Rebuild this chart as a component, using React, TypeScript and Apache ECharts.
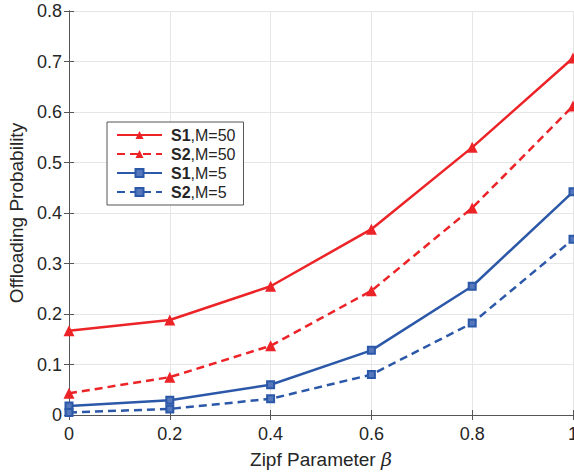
import React, { useEffect, useRef } from "react";
import * as echarts from "echarts";

const betaValues = [0, 0.2, 0.4, 0.6, 0.8, 1];
const s1M50 = [0.167, 0.188, 0.255, 0.368, 0.53, 0.707];
const s2M50 = [0.043, 0.075, 0.137, 0.246, 0.41, 0.612];
const s1M5 = [0.018, 0.029, 0.06, 0.128, 0.255, 0.442];
const s2M5 = [0.005, 0.012, 0.032, 0.08, 0.182, 0.348];

const seriesNames = ["S1,M=50", "S2,M=50", "S1,M=5", "S2,M=5"];

const RED = "#ec2327";
const BLUE = "#2b58a8";
const FONT = "'Liberation Sans', Arial, Helvetica, sans-serif";
const TXT = "#262626";

function pairs(vals: number[]) {
  return betaValues.map((b, i) => [b, vals[i]]);
}

export default function App() {
  const ref = useRef<HTMLDivElement>(null);
  useEffect(() => {
    if (!ref.current) return;
    const chart = echarts.init(ref.current, undefined, { renderer: "svg" });
    const mk = (name: string, vals: number[], color: string, dashed: boolean, tri: boolean) => ({
      name,
      type: "line",
      data: pairs(vals),
      symbol: tri ? "triangle" : "rect",
      symbolSize: tri ? 11 : 7,
      showAllSymbol: true,
      lineStyle: { color, width: 2.5, type: dashed ? [8, 5] : "solid" },
      itemStyle: { color: tri ? color : "#5577bb", borderColor: color, borderWidth: tri ? 0 : 2 },
      z: 3,
    });
    chart.setOption({
      animation: false,
      backgroundColor: "#ffffff",
      textStyle: { fontFamily: FONT },
      grid: { left: 69, top: 11, width: 504, height: 404, containLabel: false, outerBoundsMode: "none" },
      legend: {
        data: seriesNames,
        orient: "vertical",
        left: 107,
        top: 122,
        padding: [5, 8, 5, 9],
        itemGap: 3,
        itemWidth: 45,
        itemHeight: 10,
        backgroundColor: "#ffffff",
        borderColor: "#555555",
        borderWidth: 1,
        borderRadius: 0,
        formatter: (n: string) => {
          const [s, m] = n.split(",");
          return `{b|${s}}{n|,${m}}`;
        },
        textStyle: {
          rich: {
            b: { fontWeight: "bold", fontSize: 16, lineHeight: 17, color: TXT, fontFamily: FONT, padding: [0, 0, 0, 4] },
            n: { fontSize: 16, lineHeight: 17, color: TXT, fontFamily: FONT },
          },
        },
      },
      xAxis: [
        {
          type: "value",
          min: 0,
          max: 1,
          interval: 0.2,
          name: "Zipf Parameter {i|β}",
          nameLocation: "middle",
          nameGap: 33,
          nameTextStyle: {
            fontSize: 19,
            lineHeight: 22,
            color: TXT,
            fontFamily: FONT,
            rich: { i: { fontStyle: "italic", fontSize: 19, lineHeight: 22, color: TXT, fontFamily: "'DejaVu Serif', serif" } },
          },
          axisLine: { show: true, lineStyle: { color: "#555555", width: 1 } },
          axisTick: { show: true, inside: true, length: 5, lineStyle: { color: "#555555" } },
          axisLabel: {
            fontSize: 18,
            color: TXT,
            margin: 10,
            formatter: (v: number) => (v === 0 || v === 1 ? String(v) : v.toFixed(1)),
          },
          splitLine: { show: true, lineStyle: { color: "#e6e6e6", width: 1 } },
        },
        {
          type: "value",
          position: "top",
          min: 0,
          max: 1,
          interval: 0.2,
          axisLine: { show: true, lineStyle: { color: "#555555", width: 1 } },
          axisTick: { show: true, inside: true, length: 5, lineStyle: { color: "#555555" } },
          axisLabel: { show: false },
          splitLine: { show: false },
        },
      ],
      yAxis: [
        {
          type: "value",
          min: 0,
          max: 0.8,
          interval: 0.1,
          name: "Offloading Probability",
          nameLocation: "middle",
          nameGap: 41,
          nameTextStyle: { fontSize: 19, color: TXT, fontFamily: FONT },
          axisLine: { show: true, lineStyle: { color: "#555555", width: 1 } },
          axisTick: { show: true, inside: true, length: 5, lineStyle: { color: "#555555" } },
          axisLabel: {
            fontSize: 18,
            color: TXT,
            margin: 7,
            formatter: (v: number) => (v === 0 ? "0" : v.toFixed(1)),
          },
          splitLine: { show: true, lineStyle: { color: "#e6e6e6", width: 1 } },
        },
        {
          type: "value",
          position: "right",
          min: 0,
          max: 0.8,
          interval: 0.1,
          axisLine: { show: true, lineStyle: { color: "#555555", width: 1 } },
          axisTick: { show: true, inside: true, length: 5, lineStyle: { color: "#555555" } },
          axisLabel: { show: false },
          splitLine: { show: false },
        },
      ],
      series: [
        mk(seriesNames[0], s1M50, RED, false, true),
        mk(seriesNames[1], s2M50, RED, true, true),
        mk(seriesNames[2], s1M5, BLUE, false, false),
        mk(seriesNames[3], s2M5, BLUE, true, false),
      ],
    });
    return () => chart.dispose();
  }, []);
  return (
    <div
      ref={ref}
      style={{ position: "fixed", left: 0, top: 0, width: 574, height: 474, background: "#fff" }}
    />
  );
}
